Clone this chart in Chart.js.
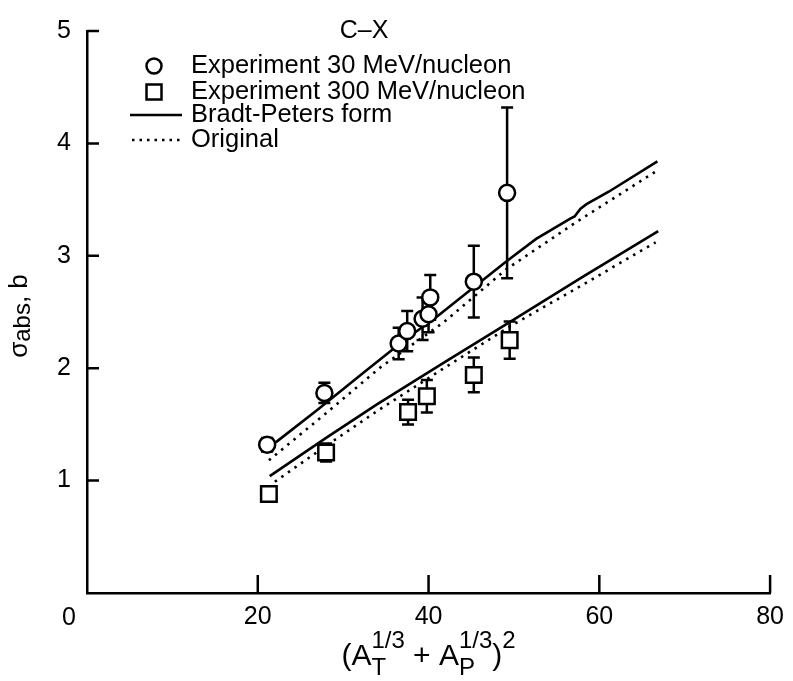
<!DOCTYPE html>
<html>
<head>
<meta charset="utf-8">
<script src="https://cdn.jsdelivr.net/npm/chart.js@4.4.1/dist/chart.umd.min.js"></script>
<style>
  html, body { margin: 0; padding: 0; background: #fff; }
  #wrap { position: relative; width: 793px; height: 681px; }
</style>
</head>
<body>
<div id="wrap"><canvas id="cx"></canvas></div>
<script>
// C-X absorption cross sections, sigma_abs (b) vs (AT^1/3 + AP^1/3)^2

// experiment, 30 MeV/nucleon
const x30 = [21.1, 27.8, 36.5, 37.5, 39.3, 40.0, 40.2, 45.3, 49.2];
const sig30 = [1.32, 1.78, 2.22, 2.33, 2.44, 2.48, 2.63, 2.77, 3.56];
const err30 = [0.06, 0.09, 0.14, 0.18, 0.19, 0.16, 0.20, 0.32, 0.76];

// experiment, 300 MeV/nucleon
const x300 = [21.3, 28.0, 37.6, 39.8, 45.3, 49.5];
const sig300 = [0.88, 1.25, 1.61, 1.75, 1.94, 2.25];
const err300 = [0, 0.08, 0.11, 0.145, 0.155, 0.165];

// Bradt-Peters form (solid)
const bpHiX = [22.1, 27.0, 32.7, 37.0, 41.0, 45.3, 49.1, 52.6, 56.6, 57.1, 57.8, 58.5, 61.1, 66.8];
const bpHiY = [1.34, 1.63, 1.98, 2.24, 2.46, 2.72, 2.95, 3.15, 3.33, 3.35, 3.42, 3.46, 3.57, 3.84];
const bpLoX = [21.4, 28.0, 34.0, 41.8, 49.5, 58.0, 66.9];
const bpLoY = [1.04, 1.38, 1.68, 2.05, 2.41, 2.81, 3.22];

// Original (dotted)
const orHiX = [21.3, 28.0, 34.4, 41.8, 49.1, 57.3, 66.6];
const orHiY = [1.18, 1.60, 2.01, 2.41, 2.88, 3.30, 3.75];
const orLoX = [22.0, 28.0, 34.0, 41.8, 49.5, 58.0, 66.6];
const orLoY = [0.99, 1.31, 1.62, 2.00, 2.37, 2.74, 3.12];

const xTicks = [0, 20, 40, 60, 80];
const yTicks = [0, 1, 2, 3, 4, 5];

const FONT = "'Liberation Sans', Arial, Helvetica, sans-serif";

const toPoints = (xs, ys) => xs.map((x, i) => ({ x: x, y: ys[i] }));

// vertical error bars, drawn under the markers
const errorBars = {
  id: "errorBars",
  beforeDatasetsDraw(chart) {
    const { ctx, scales: { x, y } } = chart;
    ctx.save();
    ctx.strokeStyle = "#000";
    ctx.lineWidth = 2.5;
    chart.data.datasets.forEach((ds) => {
      if (!ds.errors) return;
      ds.data.forEach((p, i) => {
        const e = ds.errors[i];
        if (!e) return;
        const px = x.getPixelForValue(p.x);
        const top = y.getPixelForValue(p.y + e);
        const bot = y.getPixelForValue(p.y - e);
        ctx.beginPath();
        ctx.moveTo(px, top);
        ctx.lineTo(px, bot);
        ctx.moveTo(px - 6, top);
        ctx.lineTo(px + 6, top);
        ctx.moveTo(px - 6, bot);
        ctx.lineTo(px + 6, bot);
        ctx.stroke();
      });
    });
    ctx.restore();
  },
};

// inward ticks, origin label, axis titles, legend
const decorations = {
  id: "decorations",
  afterDraw(chart) {
    const { ctx, chartArea: a, scales: { x, y } } = chart;
    ctx.save();
    ctx.strokeStyle = "#000";
    ctx.fillStyle = "#000";
    ctx.lineWidth = 2.5;

    ctx.beginPath();
    yTicks.forEach((v) => {
      if (v === 0) return;
      const py = y.getPixelForValue(v);
      ctx.moveTo(a.left, py);
      ctx.lineTo(a.left + 12, py);
    });
    xTicks.forEach((v) => {
      if (v === 0) return;
      const px = x.getPixelForValue(v);
      ctx.moveTo(px, a.bottom);
      ctx.lineTo(px, a.bottom - 18);
    });
    ctx.stroke();

    ctx.textAlign = "center";
    ctx.textBaseline = "middle";
    ctx.font = "25px " + FONT;
    ctx.fillText("0", x.getPixelForValue(0) - 18, a.bottom + 25);

    // title
    ctx.font = "25px " + FONT;
    ctx.fillText("C\u2013X", a.left + 277, a.top);

    // y title: sigma_abs, b
    ctx.save();
    ctx.translate(20, (a.top + a.bottom) / 2 + 4);
    ctx.rotate(-Math.PI / 2);
    ctx.textAlign = "left";
    const yParts = [["\u03c3", 26, 0], ["abs", 24, 3], [", b", 26, 0]];
    let total = 0;
    yParts.forEach((p) => { ctx.font = p[1] + "px " + FONT; total += ctx.measureText(p[0]).width; });
    let cx = -total / 2;
    yParts.forEach((p) => {
      ctx.font = p[1] + "px " + FONT;
      ctx.fillText(p[0], cx, p[2]);
      cx += ctx.measureText(p[0]).width;
    });
    ctx.restore();

    // x title: (AT^1/3 + AP^1/3)^2
    const big = "30px " + FONT, small = "24px " + FONT;
    const base = a.bottom + 72;
    const parts = [
      { t: "(A", f: big },
      { sub: "T", sup: "1/3" },
      { t: " + A", f: big },
      { sub: "P", sup: "1/3" },
      { t: ")", f: big },
      { sup: "2" },
    ];
    const widthOf = (p) => {
      if (p.t) { ctx.font = p.f; return ctx.measureText(p.t).width; }
      ctx.font = small;
      return Math.max(p.sub ? ctx.measureText(p.sub).width : 0, ctx.measureText(p.sup).width);
    };
    let tw = 0;
    parts.forEach((p) => { tw += widthOf(p); });
    let tx = (a.left + a.right) / 2 - tw / 2;
    ctx.textAlign = "left";
    ctx.textBaseline = "alphabetic";
    parts.forEach((p) => {
      const w = widthOf(p);
      if (p.t) {
        ctx.font = p.f;
        ctx.fillText(p.t, tx, base);
      } else {
        ctx.font = small;
        if (p.sub) ctx.fillText(p.sub, tx, base + 10);
        ctx.fillText(p.sup, tx, base - 17);
      }
      tx += w;
    });

    // legend
    const lx = a.left + 67, tx0 = a.left + 104;
    const rows = [a.top + 35, a.top + 61, a.top + 84, a.top + 109];
    ctx.lineWidth = 2.5;
    ctx.fillStyle = "#fff";
    ctx.beginPath();
    ctx.arc(lx, rows[0], 7.5, 0, Math.PI * 2);
    ctx.fill();
    ctx.stroke();
    ctx.beginPath();
    ctx.rect(lx - 7.5, rows[1] - 7.5, 15, 15);
    ctx.fill();
    ctx.stroke();
    ctx.beginPath();
    ctx.moveTo(lx - 24, rows[2]);
    ctx.lineTo(lx + 28, rows[2]);
    ctx.stroke();
    ctx.setLineDash([2.5, 5]);
    ctx.beginPath();
    ctx.moveTo(lx - 22, rows[3]);
    ctx.lineTo(lx + 28, rows[3]);
    ctx.stroke();
    ctx.setLineDash([]);

    ctx.fillStyle = "#000";
    ctx.font = "25.5px " + FONT;
    ctx.textBaseline = "middle";
    const names = chart.data.datasets.slice(0, 4).map((d) => d.label);
    names.forEach((n, i) => ctx.fillText(n, tx0, rows[i]));
    ctx.restore();
  },
};

const markerStyle = {
  showLine: false,
  pointBackgroundColor: "#fff",
  pointBorderColor: "#000",
  pointBorderWidth: 2.5,
};
const lineStyle = {
  showLine: true,
  pointRadius: 0,
  borderColor: "#000",
  borderWidth: 2.6,
  tension: 0,
};

new Chart(document.getElementById("cx"), {
  type: "scatter",
  data: {
    datasets: [
      { ...markerStyle, label: "Experiment 30 MeV/nucleon", data: toPoints(x30, sig30), errors: err30, pointStyle: "circle", pointRadius: 8 },
      { ...markerStyle, label: "Experiment 300 MeV/nucleon", data: toPoints(x300, sig300), errors: err300, pointStyle: "rect", pointRadius: 11 },
      { ...lineStyle, label: "Bradt-Peters form", data: toPoints(bpHiX, bpHiY) },
      { ...lineStyle, label: "Original", data: toPoints(orHiX, orHiY), borderDash: [2.5, 5.5] },
      { ...lineStyle, label: "Bradt-Peters form (300)", data: toPoints(bpLoX, bpLoY) },
      { ...lineStyle, label: "Original (300)", data: toPoints(orLoX, orLoY), borderDash: [2.5, 5.5] },
    ],
  },
  options: {
    responsive: true,
    maintainAspectRatio: false,
    animation: false,
    events: [],
    layout: { padding: { left: 0, right: 17, top: 23, bottom: 0 } },
    plugins: { legend: { display: false }, tooltip: { enabled: false } },
    scales: {
      x: {
        type: "linear",
        min: 0,
        max: 80,
        afterFit: (s) => { s.height = 88; },
        afterBuildTicks: (s) => { s.ticks = xTicks.map((v) => ({ value: v })); },
        grid: { display: false, drawTicks: false },
        border: { display: true, color: "#000", width: 2.5 },
        ticks: {
          padding: 9,
          color: "#000",
          font: { family: FONT, size: 25 },
          callback: (v) => (v === 0 ? "" : v),
        },
      },
      y: {
        type: "linear",
        min: 0,
        max: 5,
        afterFit: (s) => { s.width = 87; },
        afterBuildTicks: (s) => { s.ticks = yTicks.map((v) => ({ value: v })); },
        grid: { display: false, drawTicks: false },
        border: { display: true, color: "#000", width: 2.5 },
        ticks: {
          padding: 16,
          color: "#000",
          font: { family: FONT, size: 25 },
          callback: (v) => (v === 0 ? "" : v),
        },
      },
    },
  },
  plugins: [errorBars, decorations],
});
</script>
</body>
</html>
